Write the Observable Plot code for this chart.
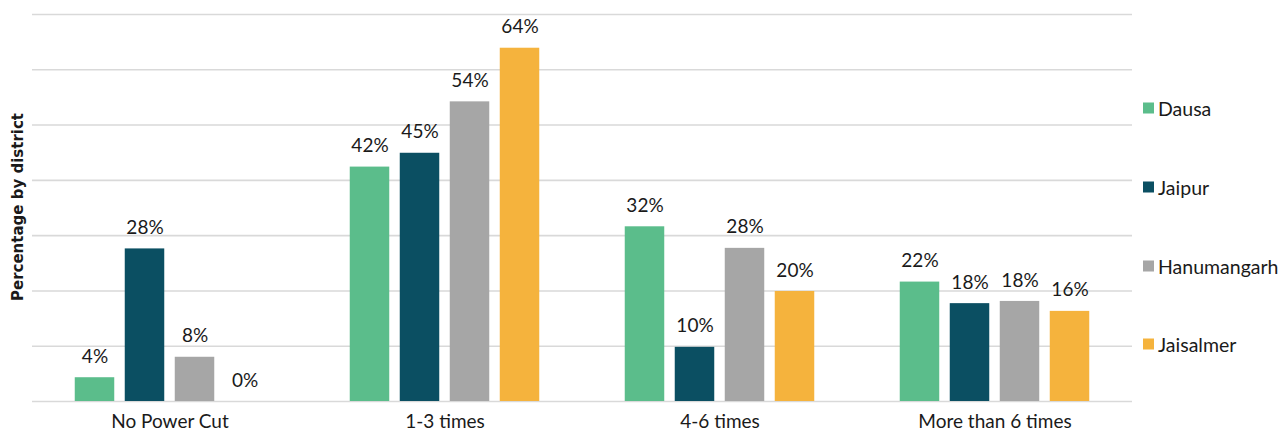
<!DOCTYPE html>
<html>
<head>
<meta charset="utf-8">
<script src="https://cdn.jsdelivr.net/npm/d3@7"></script>
<script src="https://cdn.jsdelivr.net/npm/@observablehq/plot@0.6"></script>
<style>
  html, body { margin: 0; padding: 0; background: #fff; }
  #wrap { position: relative; width: 1282px; height: 434px; font-family: Lato, "Open Sans", sans-serif; color: #1a1a1a; }
  #ylabel { position: absolute; left: 18px; top: 207px; transform: translate(-50%, -50%) rotate(-90deg); font-family: "DejaVu Sans", sans-serif; font-weight: bold; font-size: 15px; white-space: nowrap; }
  #legend { position: absolute; left: 1143px; top: 0; }
  .item { position: absolute; display: flex; align-items: center; font-size: 19.5px; white-space: nowrap; transform: translateY(-50%); }
  .sw { width: 11px; height: 11px; margin-right: 4px; }
</style>
</head>
<body>
<div id="wrap">
  <div id="chart"></div>
  <div id="ylabel">Percentage by district</div>
  <div id="legend"></div>
</div>
<script>
const categories = ["No Power Cut", "1-3 times", "4-6 times", "More than 6 times"];
const districts = ["Dausa", "Jaipur", "Hanumangarh", "Jaisalmer"];
const colors = ["#5bbd8b", "#0b4f62", "#a6a6a6", "#f5b33d"];
const dausa = [4.3, 42.4, 31.6, 21.6];
const jaipur = [27.6, 44.9, 9.8, 17.7];
const hanumangarh = [8.0, 54.2, 27.7, 18.1];
const jaisalmer = [0, 63.9, 19.9, 16.3];
const yTicks = [0, 10, 20, 30, 40, 50, 60, 70];

const series = [dausa, jaipur, hanumangarh, jaisalmer];
const data = [];
districts.forEach((d, i) => categories.forEach((c, j) => data.push({category: c, district: d, value: series[i][j]})));

const chart = Plot.plot({
  width: 1282,
  height: 434,
  marginLeft: 32,
  marginRight: 150,
  marginTop: 14,
  marginBottom: 33,
  style: {fontFamily: "Lato, 'Open Sans', sans-serif", fontSize: "19px", color: "#1a1a1a", background: "#fff"},
  fx: {domain: categories, paddingInner: 0.2727, paddingOuter: 0.13636, round: false, label: null, axis: "bottom", tickSize: 0, tickPadding: 13},
  x: {domain: districts, paddingInner: 0.21, paddingOuter: 0.105, round: false, axis: null},
  y: {domain: [0, 70], axis: null},
  color: {domain: districts, range: colors},
  marks: [
    Plot.ruleY(yTicks, {stroke: "#d9d9d9", strokeWidth: 1.6, insetLeft: -37.5, insetRight: -37.5}),
    Plot.barY(data, {fx: "category", x: "district", y: "value", fill: "district"}),
    Plot.text(data, {fx: "category", x: "district", y: "value", text: d => `${Math.round(d.value)}%`, dy: -21, lineAnchor: "middle", fill: "#1a1a1a", fontSize: 19})
  ]
});
document.getElementById("chart").appendChild(chart);

const legendTops = [108, 187, 266, 344];
const legend = document.getElementById("legend");
districts.forEach((d, i) => {
  const item = document.createElement("div");
  item.className = "item";
  item.style.top = legendTops[i] + "px";
  item.innerHTML = `<span class="sw" style="background:${colors[i]}"></span><span>${d}</span>`;
  legend.appendChild(item);
});
</script>
</body>
</html>
